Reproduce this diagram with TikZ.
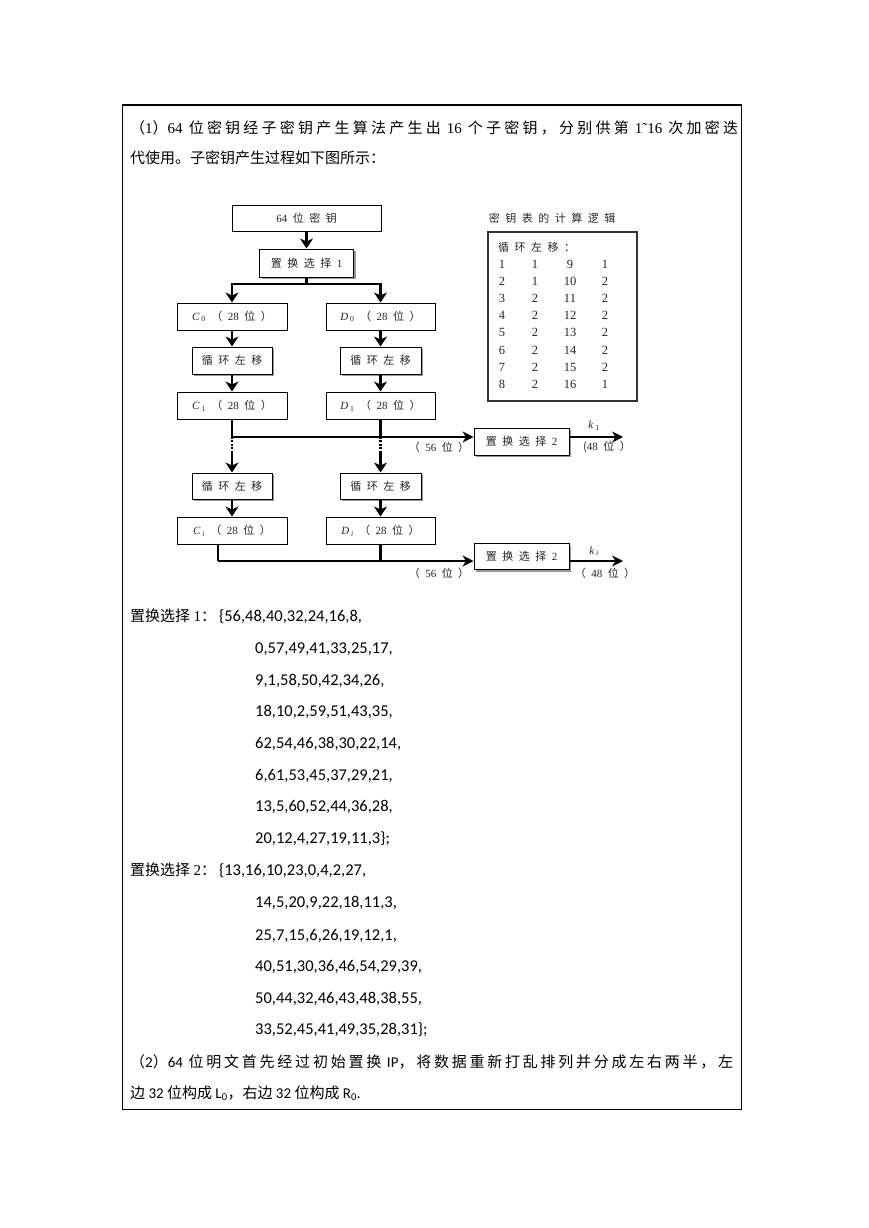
\documentclass[tikz,border=0pt]{standalone}
\usepackage{fontspec}
\setmainfont{Liberation Serif}
\newfontfamily\cjk{Noto Sans CJK SC}
\newfontfamily\calf{Carlito}
\usetikzlibrary{arrows.meta,shadows}
\XeTeXinterchartokenstate=1
\newXeTeXintercharclass\CJKcls
\newcount\ccc
\ccc="4E00
\loop \XeTeXcharclass\ccc=\CJKcls \ifnum\ccc<"9FFF \advance\ccc by 1 \repeat
\XeTeXcharclass"FF08=\CJKcls
\XeTeXcharclass"FF09=\CJKcls
\XeTeXcharclass"FF0C=\CJKcls
\XeTeXcharclass"FF1A=\CJKcls
\XeTeXcharclass"3002=\CJKcls
\XeTeXinterchartoks\CJKcls\CJKcls={\hskip 0pt plus 2pt\relax}
\newcommand\R[1]{{\rmfamily #1}}
\newcommand\C[1]{{\calf #1}}
\newcommand\fcf{\cjk\fontsize{11}{13}\selectfont}
\newcommand\g{\hspace{5.5pt}}
\begin{document}
\begin{tikzpicture}[x=1pt,y=-1pt,
  box/.style={draw, line width=1pt, fill=white, inner sep=0pt, font=\fcf, text=black!85},
  shad/.style={drop shadow={shadow xshift=2pt,shadow yshift=-2pt,fill=black!40,opacity=1}},
  thk/.style={line width=2.8pt, -{Stealth[length=10pt,width=13pt,inset=3pt]}},
  thkl/.style={line width=2.8pt},
  thn/.style={line width=1.1pt, -{Stealth[length=11pt,width=11pt,inset=3.5pt]}},
  txt/.style={anchor=base west, inner sep=0pt, font=\cjk\fontsize{15}{17}\selectfont},
  num/.style={anchor=base west, inner sep=0pt, font=\calf\fontsize{16.5}{18}\selectfont},
  lbl/.style={inner sep=0pt, font=\fcf, text=black!85},
  tv/.style={inner sep=0pt, font=\rmfamily\fontsize{12.5}{14}\selectfont, text=black!85}
]
\useasboundingbox (0,0) rectangle (869,1228);
\fill[white] (0,0) rectangle (869,1228);
\draw[line width=1.2pt] (122.5,105) rectangle (741.5,1109.5);

% intro text
\node[txt] (t1) at (130,133) {\hbox to 608pt{（\R{1}）\R{64} 位密钥经子密钥产生算法产生出 \R{16} 个子密钥，分别供第 \R{1˜16} 次加密迭}};
\node[txt] (t2) at (130,164) {代使用。子密钥产生过程如下图所示：};

% flowchart
\node[box, minimum width=149, minimum height=26] (key64) at (306.5,218) {\R{64}\g 位\g 密\g 钥};
\node[box, shad, minimum width=94, minimum height=28] (pc1) at (306.5,263) {置\g 换\g 选\g 择\g\R{1}};
\node[box, minimum width=110, minimum height=27] (C0) at (232,316.5) {\R{\textit{C}\,\textsubscript{0}}\g（\g\R{28}\g 位\g ）};
\node[box, minimum width=109, minimum height=27] (D0) at (380.5,316.5) {\R{\textit{D}\,\textsubscript{0}}\g（\g\R{28}\g 位\g ）};
\node[box, shad, minimum width=80, minimum height=27] (ls1L) at (232,360.5) {循\g 环\g 左\g 移};
\node[box, shad, minimum width=81, minimum height=27] (ls1R) at (380.5,360.5) {循\g 环\g 左\g 移};
\node[box, minimum width=110, minimum height=27] (C1) at (232,405.5) {\R{\textit{C}\,\textsubscript{1}}\g（\g\R{28}\g 位\g ）};
\node[box, minimum width=109, minimum height=27] (D1) at (380.5,405.5) {\R{\textit{D}\,\textsubscript{1}}\g（\g\R{28}\g 位\g ）};
\node[box, shad, minimum width=80, minimum height=26] (ls2L) at (232,486) {循\g 环\g 左\g 移};
\node[box, shad, minimum width=81, minimum height=26] (ls2R) at (380.5,486) {循\g 环\g 左\g 移};
\node[box, minimum width=110, minimum height=27] (Ci) at (232,530.5) {\R{\textit{C}\,\textsubscript{\textit{i}}}\g（\g\R{28}\g 位\g ）};
\node[box, minimum width=109, minimum height=27] (Di) at (380.5,530.5) {\R{\textit{D}\,\textsubscript{\textit{i}}}\g（\g\R{28}\g 位\g ）};
\node[box, shad, minimum width=95, minimum height=27] (pc2a) at (521.5,441.5) {置\g 换\g 选\g 择\g\R{2}};
\node[box, shad, minimum width=95, minimum height=26] (pc2b) at (521.5,556.5) {置\g 换\g 选\g 择\g\R{2}};

\coordinate (split) at (306.5,284);
\coordinate (splitL) at (232,284);
\coordinate (splitR) at (380.5,284);
\coordinate (hL) at (232,437);
\coordinate (hR) at (380.5,437);
\coordinate (dL) at (232,453);
\coordinate (dR) at (380.5,453);
\coordinate (k1e) at (623,437);
\coordinate (bl) at (218,561);
\coordinate (kie) at (623,561);

\draw[thk] (key64) -- (pc1);
\draw[thkl] (pc1.south) -- (split);
\draw[thkl, line cap=rect] (splitL) -- (splitR);
\draw[thk] (splitL) -- (C0);
\draw[thk] (splitR) -- (D0);
\draw[thk] (C0) -- (ls1L);
\draw[thk] (D0) -- (ls1R);
\draw[thk] (ls1L) -- (C1);
\draw[thk] (ls1R) -- (D1);
\draw[thkl] (C1.south) -- (hL);
\draw[thkl] (D1.south) -- (hR);
\draw[thkl, dash pattern=on 2pt off 1.4pt] (hL) -- (dL);
\draw[thkl, dash pattern=on 2pt off 1.4pt] (hR) -- (dR);
\draw[thk] (dL) -- (ls2L);
\draw[thk] (dR) -- (ls2R);
\draw[thk] (ls2L) -- (Ci);
\draw[thk] (ls2R) -- (Di);
\draw[thn] (hL) -- (hL -| pc2a.west);
\draw[thn] (hL -| pc2a.east) -- (k1e);
\draw[line width=1.1pt] ([xshift=-14pt]Ci.south) -- (bl);
\draw[thn] (bl) -- (bl -| pc2b.west);
\draw[thkl] (Di.south) -- (Di.south |- bl);
\draw[thn] (bl -| pc2b.east) -- (kie);

\node[lbl] (l56a) at (439,447) {（\g\R{56}\g 位\g ）};
\node[lbl] (l48a) at (607,447) {(\R{48}\g 位\g ）};
\node[lbl] (k1) at (594,426) {\R{\textit{k}\,\textsubscript{1}}};
\node[lbl] (l56b) at (439,573) {（\g\R{56}\g 位\g ）};
\node[lbl] (l48b) at (605,573) {（\g\R{48}\g 位\g ）};
\node[lbl] (ki) at (594,551) {\R{\textit{k}\,\textsubscript{\textit{i}}}};

% table
\node[lbl] (ttl) at (552,218) {密\g 钥\g 表\g 的\g 计\g 算\g 逻\g 辑};
\node[draw=black!80, line width=1.2pt, minimum width=149, minimum height=169, inner sep=0pt] (tbl) at (562.5,316.5) {};
\node[lbl, anchor=west] (th) at (498,247) {循\g 环\g 左\g 移\g ：};
\foreach \a/\b/\c/\d [count=\k] in {1/1/9/1,2/1/10/2,3/2/11/2,4/2/12/2,5/2/13/2,6/2/14/2,7/2/15/2,8/2/16/1}{
  \pgfmathsetmacro\yy{264+17.2*(\k-1)}
  \node[tv] (ta\k) at (502,\yy) {\a};
  \node[tv] (tb\k) at (535,\yy) {\b};
  \node[tv] (tc\k) at (570,\yy) {\c};
  \node[tv] (td\k) at (605,\yy) {\d};
}

% permutation lists
\node[txt] (p1) at (130,621.5) {置换选择 \R{1}：};
\node[num] (p1a) at (219,621.5) {\{56,48,40,32,24,16,8,};
\node[num] (p1b) at (255,653.5) {0,57,49,41,33,25,17,};
\node[num] (p1c) at (255,685.5) {9,1,58,50,42,34,26,};
\node[num] (p1d) at (255,716.5) {18,10,2,59,51,43,35,};
\node[num] (p1e) at (255,748.5) {62,54,46,38,30,22,14,};
\node[num] (p1f) at (255,780.5) {6,61,53,45,37,29,21,};
\node[num] (p1g) at (255,811.5) {13,5,60,52,44,36,28,};
\node[num] (p1h) at (255,843.5) {20,12,4,27,19,11,3\};};
\node[txt] (p2) at (130,875.5) {置换选择 \R{2}：};
\node[num] (p2a) at (219,875.5) {\{13,16,10,23,0,4,2,27,};
\node[num] (p2b) at (255,907.5) {14,5,20,9,22,18,11,3,};
\node[num] (p2c) at (255,940.5) {25,7,15,6,26,19,12,1,};
\node[num] (p2d) at (255,971.5) {40,51,30,36,46,54,29,39,};
\node[num] (p2e) at (255,1003.5) {50,44,32,46,43,48,38,55,};
\node[num] (p2f) at (255,1034.5) {33,52,45,41,49,35,28,31\};};

\node[txt] (s1) at (130,1067.5) {\hbox to 603pt{（\C{2}）\C{64} 位明文首先经过初始置换 \C{IP}，将数据重新打乱排列并分成左右两半，左}};
\node[txt] (s2) at (130,1098.5) {边 \C{32} 位构成 \C{L\textsubscript{0}}，右边 \C{32} 位构成 \C{R\textsubscript{0}.}};
\end{tikzpicture}
\end{document}
